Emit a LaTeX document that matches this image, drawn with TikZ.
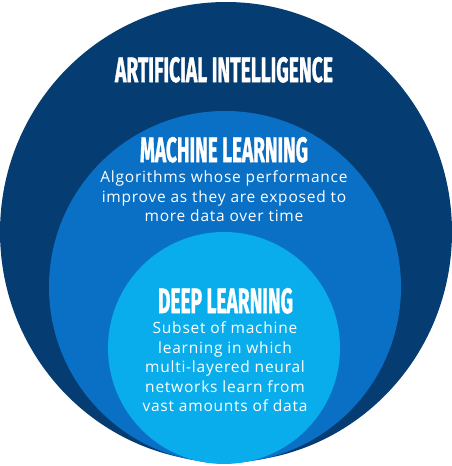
\documentclass[tikz,border=0pt]{standalone}
\usepackage{fontspec}
\setmainfont{Open Sans}[LetterSpace=5]
\newfontfamily\headfont{Fira Sans}[FakeBold=1.5]
\usepackage{graphicx}
\definecolor{aiblue}{HTML}{053C72}
\definecolor{mlblue}{HTML}{0A70C5}
\definecolor{dlblue}{HTML}{0AADEC}
\begin{document}
\begin{tikzpicture}[x=1pt,y=-1pt,
  headtxt/.style={text=white,inner sep=0pt,anchor=base},
  bodytxt/.style={text=white,inner sep=0pt,anchor=base,font=\fontsize{15.5}{19.5}\selectfont}]
\fill[white] (0,0) rectangle (452,466);
\useasboundingbox (0,0) rectangle (452,466);
\fill[aiblue] (226,232) ellipse [x radius=226pt, y radius=230pt];
\fill[mlblue] (225,287) circle [radius=176pt];
\fill[dlblue] (224,348) circle [radius=116pt];
\node[headtxt] (ait) at (224,82) {\resizebox{218pt}{25pt}{\headfont\bfseries ARTIFICIAL INTELLIGENCE}};
\node[headtxt] (mlt) at (224,162) {\resizebox{168pt}{25pt}{\headfont\bfseries MACHINE LEARNING}};
\node[headtxt] (dlt) at (225.5,313) {\resizebox{135pt}{25pt}{\headfont\bfseries DEEP LEARNING}};
\node[bodytxt] (ml1) at (224,182) {Algorithms whose performance};
\node[bodytxt] (ml2) at (224,202) {improve as they are exposed to};
\node[bodytxt] (ml3) at (224,221) {more data over time};
\node[bodytxt] (dl1) at (225,333) {Subset of machine};
\node[bodytxt] (dl2) at (225,353) {learning in which};
\node[bodytxt] (dl3) at (225,372) {multi-layered neural};
\node[bodytxt] (dl4) at (225,392) {networks learn from};
\node[bodytxt] (dl5) at (225,411) {vast amounts of data};
\end{tikzpicture}
\end{document}
